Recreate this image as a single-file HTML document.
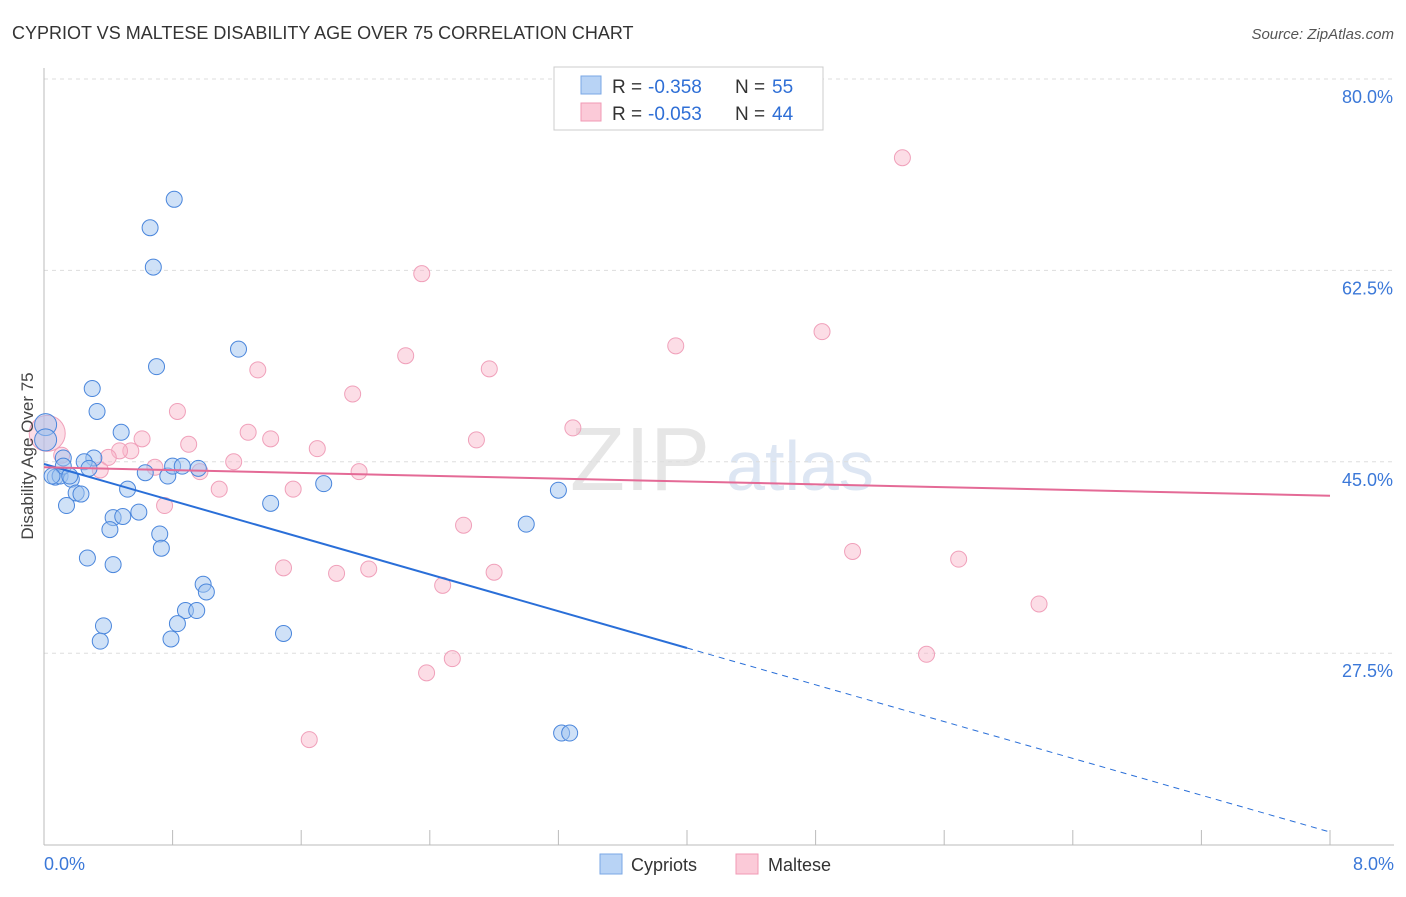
<!DOCTYPE html>
<html><head><meta charset="utf-8"><style>
body{margin:0;background:#fff;font-family:"Liberation Sans",sans-serif}
svg text{font-family:"Liberation Sans",sans-serif}
</style></head><body>
<svg id="c" width="1406" height="892">
<text x="12" y="39" font-size="18" fill="#333">CYPRIOT VS MALTESE DISABILITY AGE OVER 75 CORRELATION CHART</text>
<text x="1394" y="39" font-size="15" fill="#555" font-style="italic" text-anchor="end">Source: ZipAtlas.com</text>
<text x="640" y="490" font-size="90" fill="#e6e6e6" font-family="Liberation Serif" text-anchor="middle">ZIP</text>
<text x="800" y="490" font-size="70" fill="#dde6f3" text-anchor="middle">atlas</text>
<g id="grid"></g><g id="pts"></g><g id="lines"></g>
<text transform="translate(33,456) rotate(-90)" font-size="17" fill="#444" text-anchor="middle">Disability Age Over 75</text>
<g>
<rect x="554" y="67" width="269" height="63" fill="#fff" stroke="#ccc"/>
<rect x="581" y="76" width="20" height="18" fill="#b8d3f5" stroke="#7aa7e5"/>
<rect x="581" y="103" width="20" height="18" fill="#fbcad8" stroke="#f09ab5"/>
<text y="93" font-size="19" fill="#333"><tspan x="612">R =</tspan><tspan x="648" fill="#2f6fd6">-0.358</tspan><tspan x="735">N =</tspan><tspan x="772" fill="#2f6fd6">55</tspan></text>
<text y="120" font-size="19" fill="#333"><tspan x="612">R =</tspan><tspan x="648" fill="#2f6fd6">-0.053</tspan><tspan x="735">N =</tspan><tspan x="772" fill="#2f6fd6">44</tspan></text>
</g>
<g>
<rect x="600" y="854" width="22" height="20" fill="#b8d3f5" stroke="#7aa7e5"/>
<text x="631" y="871" font-size="18" fill="#333">Cypriots</text>
<rect x="736" y="854" width="22" height="20" fill="#fbcad8" stroke="#f09ab5"/>
<text x="768" y="871" font-size="18" fill="#333">Maltese</text>
</g>
</svg>
<script>
const yTicks=[80,62.5,45,27.5];
const yTickLabels=["80.0%","62.5%","45.0%","27.5%"];
const xTickLabels=["0.0%","8.0%"];
const cypX=[0.81,0.66,0.68,1.21,0.70,0.30,0.33,0.48,0.01,0.01,0.12,0.31,0.25,0.07,0.10,0.17,0.12,0.20,0.23,0.14,0.52,0.63,0.77,0.80,0.96,0.86,0.43,0.49,0.59,0.41,0.72,0.73,0.27,0.43,0.99,1.01,0.88,0.95,0.83,0.37,0.35,0.79,1.41,1.49,1.74,3.00,3.20,3.22,3.27,0.05,0.16,0.28];
const cypY=[69.0,66.4,62.8,55.3,53.7,51.7,49.6,47.7,48.4,47.0,45.35,45.35,45.0,43.6,43.7,43.4,44.6,42.15,42.05,41.0,42.5,44.0,43.7,44.6,44.4,44.6,39.9,40.0,40.4,38.8,38.4,37.1,36.2,35.6,33.8,33.1,31.4,31.4,30.2,30.0,28.6,28.8,41.2,29.3,43.0,39.3,42.4,20.2,20.2,43.7,43.7,44.4];
const malX=[5.34,2.35,4.84,3.93,2.25,2.77,1.33,1.92,0.83,3.29,1.27,0.61,1.41,2.69,0.90,0.54,0.47,1.70,0.40,1.18,0.69,0.35,0.97,1.96,1.09,1.55,0.75,2.61,5.03,5.69,1.49,1.82,2.02,2.80,2.48,6.19,5.49,2.54,2.38,1.65,0.11,0.02];
const malY=[72.8,62.2,56.9,55.6,54.7,53.5,53.4,51.2,49.6,48.1,47.7,47.1,47.1,47.0,46.6,46.0,46.0,46.2,45.4,45.0,44.5,44.25,44.1,44.1,42.5,42.5,41.0,39.2,36.8,36.1,35.3,34.8,35.2,34.9,33.7,32.0,27.4,27.0,25.7,19.6,45.6,47.6];
const cypTrend=[44.8,11.15];
const malTrend=[44.5,41.9];
const X=v=>44+v*160.75, Y=v=>79+(80-v)*10.937;
const NS='http://www.w3.org/2000/svg';
function mk(t,a,p){const e=document.createElementNS(NS,t);for(const k in a)e.setAttribute(k,a[k]);p.appendChild(e);return e;}
const g=document.getElementById('grid');
yTicks.forEach((t,i)=>{
 const l=mk('line',{x1:44,x2:1394,y1:Y(t),y2:Y(t),stroke:'#ddd','stroke-dasharray':'4,4'},g);
 
 
 const tx=mk('text',{x:1393,y:Y(t)+24,'font-size':18,fill:'#3b78d8','text-anchor':'end'},g);
 tx.textContent=yTickLabels[i];
 
 
});
const ya=mk('line',{x1:44,x2:44,y1:68,y2:845,stroke:'#bbb'},g);


const xa=mk('line',{x1:44,x2:1394,y1:845,y2:845,stroke:'#bbb'},g);


for(let i=0;i<=10;i++){const t=mk('line',{x1:X(i*0.8),x2:X(i*0.8),y1:830,y2:845,stroke:'#bbb'},g);
 
 }
[[0,'start',44],[8,'end',1394]].forEach((d,i)=>{const t=mk('text',{x:d[2],y:870,'font-size':18,fill:'#3b78d8','text-anchor':d[1]},g);
 t.textContent=xTickLabels[i];
 
 });
const p=document.getElementById('pts');
malX.forEach((x,i)=>{const big=i===malX.length-1;
 const c=mk('circle',{cx:X(x),cy:Y(malY[i]),r:big?18:8,fill:'rgba(248,180,200,0.45)',stroke:'#f0a0ba','stroke-width':1},p);
 
 });
cypX.forEach((x,i)=>{const big=i===8||i===9;
 const c=mk('circle',{cx:X(x),cy:Y(cypY[i]),r:big?11:8,fill:'rgba(160,195,240,0.5)',stroke:'#4a86dc','stroke-width':1},p);
 
 });
const L=document.getElementById('lines');
const cy=v=>cypTrend[0]+(cypTrend[1]-cypTrend[0])*v/8;
let a=mk('line',{x1:X(0),y1:Y(cy(0)),x2:X(4),y2:Y(cy(4)),stroke:'#2a6fd8','stroke-width':2},L);


a=mk('line',{x1:X(4),y1:Y(cy(4)),x2:X(8),y2:Y(cy(8)),stroke:'#2a6fd8','stroke-width':1,'stroke-dasharray':'6,5'},L);


a=mk('line',{x1:X(0),y1:Y(malTrend[0]),x2:X(8),y2:Y(malTrend[1]),stroke:'#e46a96','stroke-width':2},L);


</script>
</body></html>
